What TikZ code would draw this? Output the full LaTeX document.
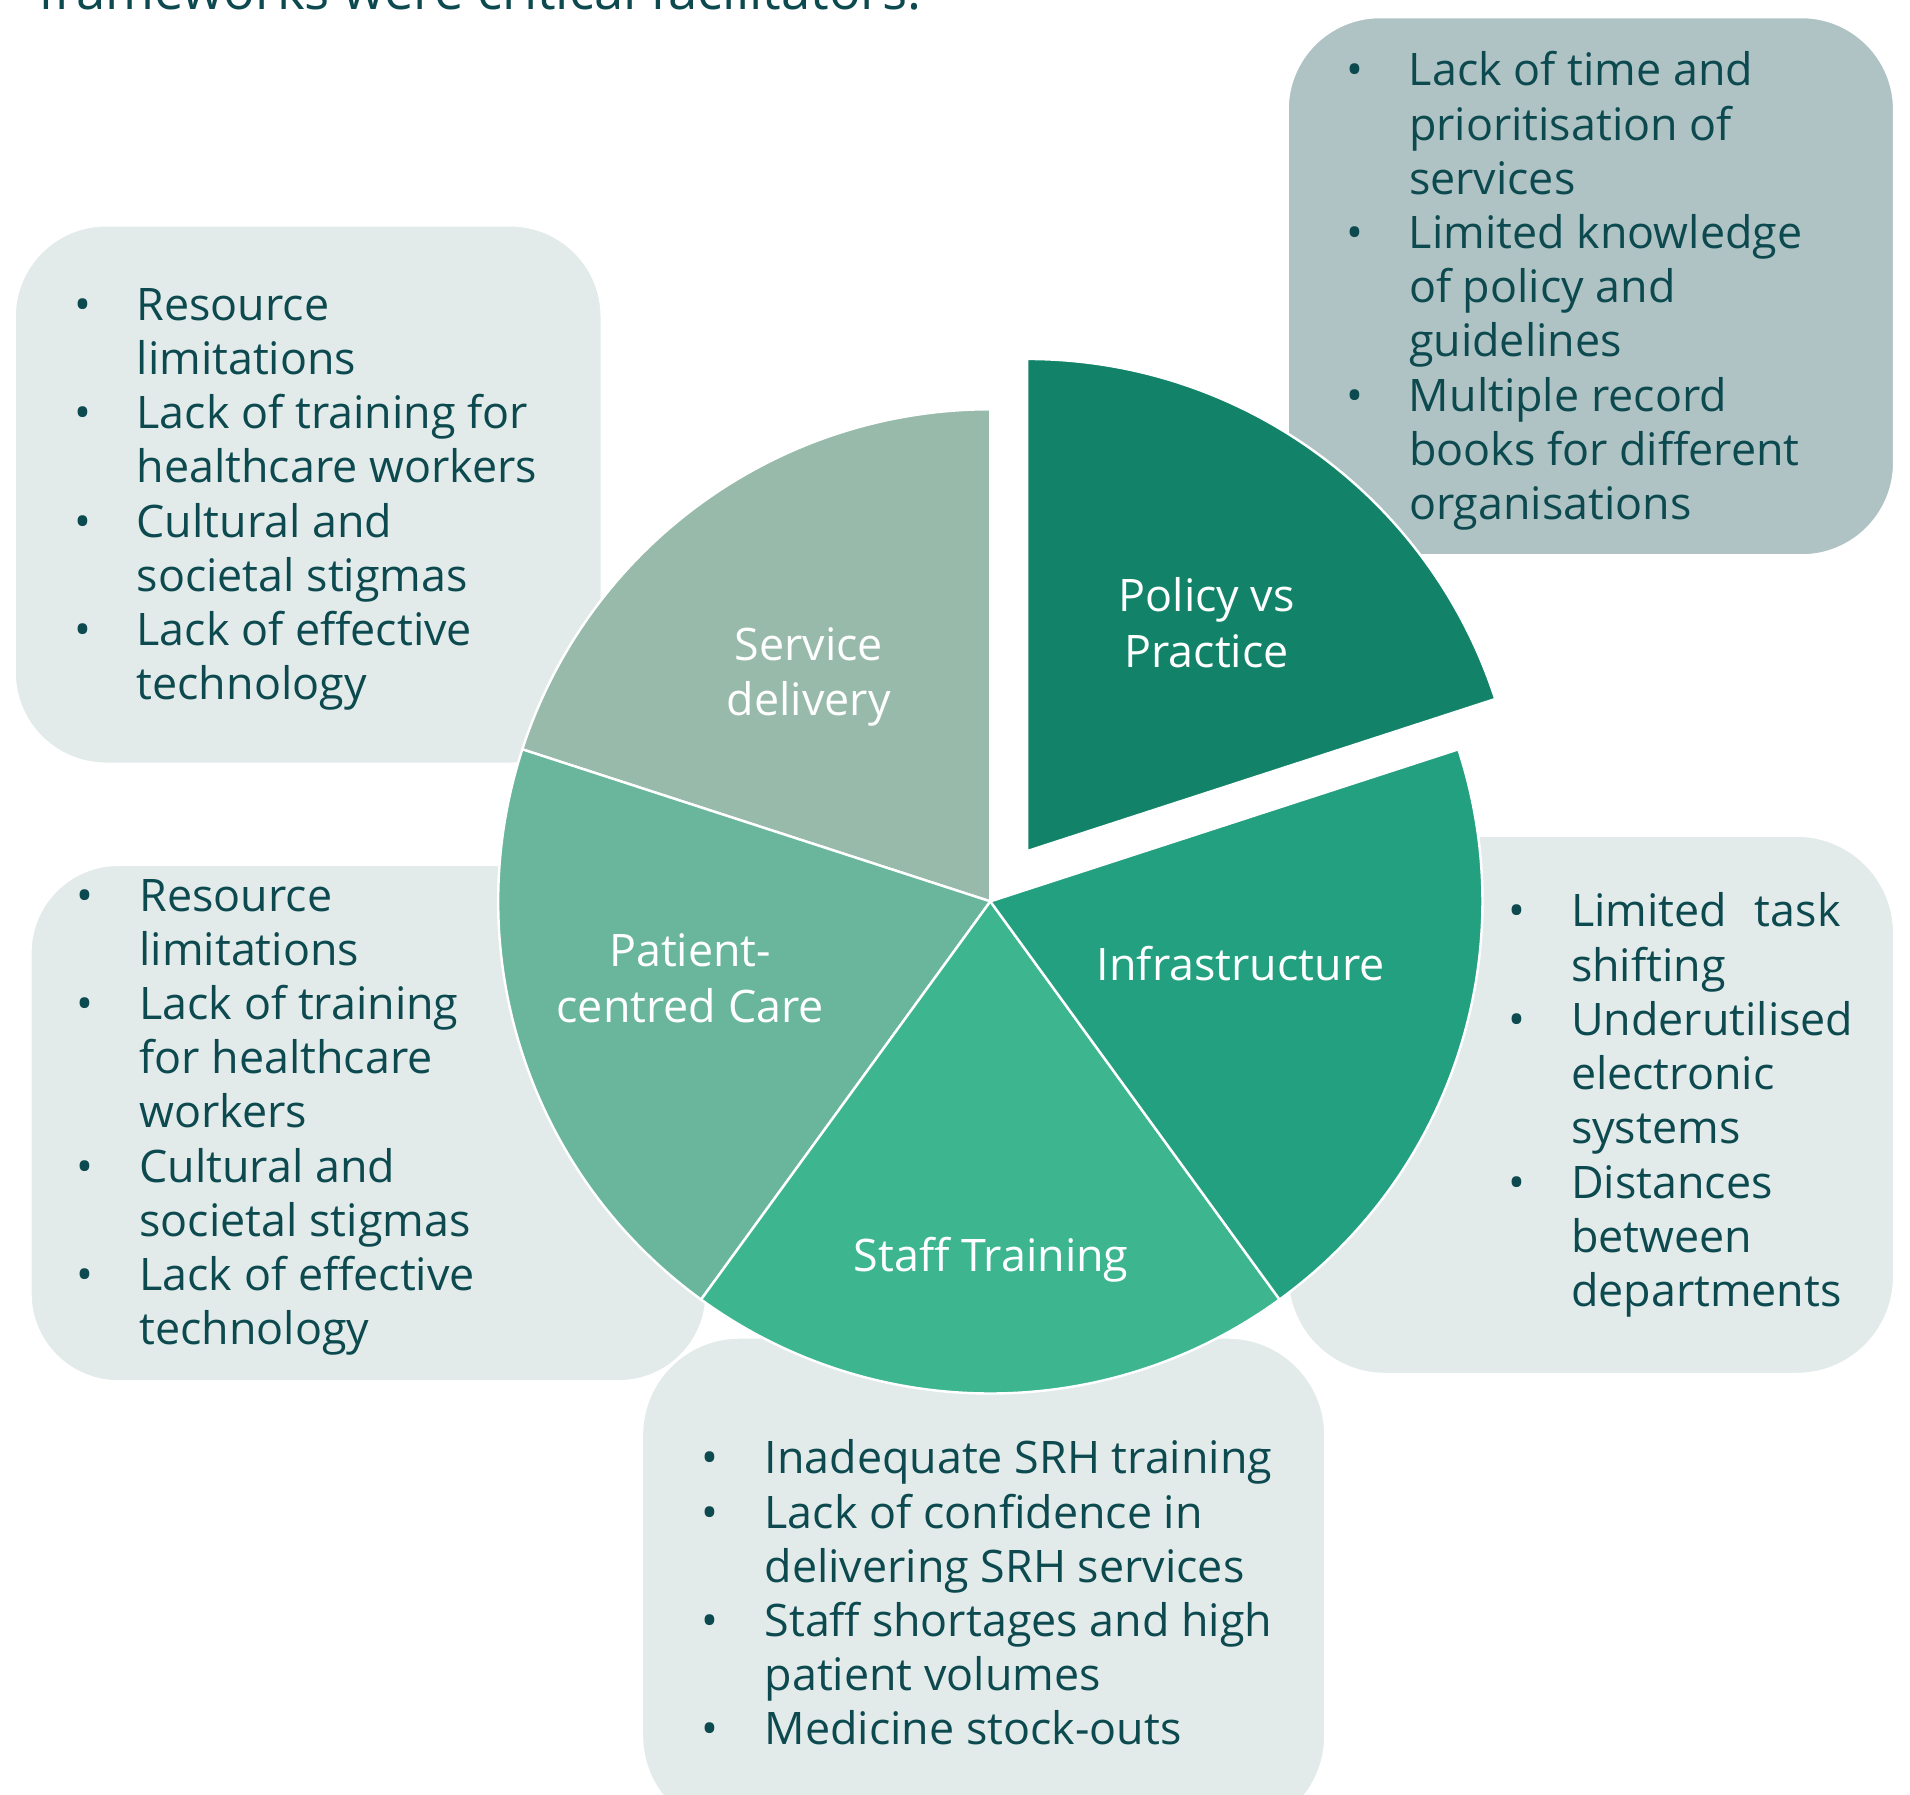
\documentclass[tikz,border=0pt]{standalone}
\usepackage{fontspec}
\setmainfont{Open Sans}

\definecolor{inktext}{HTML}{0D4A50}
\definecolor{panelpale}{HTML}{E2EBEA}
\definecolor{paneldark}{HTML}{AFC3C4}
\definecolor{segservice}{HTML}{97BAAB}
\definecolor{segpatient}{HTML}{69B69C}
\definecolor{segstaff}{HTML}{3DB690}
\definecolor{seginfra}{HTML}{23A07F}
\definecolor{segpolicy}{HTML}{128369}

% bullet in a fixed-width hanging column
\newcommand{\bul}{\makebox[44.5pt][l]{\makebox[0pt]{•}}}

\tikzset{
  panel/.style={fill=panelpale, draw=white, line width=2pt},
  segment/.style={draw=white, line width=2pt, line join=round},
  listtext/.style={anchor=base west, inner sep=0pt, text=inktext,
    font=\fontsize{36.8}{44.5}\selectfont},
  seglabel/.style={anchor=base, inner sep=0pt, text=white,
    font=\fontsize{36.8}{45.7}\selectfont}
}

\begin{document}
\begin{tikzpicture}[x=1pt, y=1pt]
\useasboundingbox (0,0) rectangle (1568,1473);
\clip (0,0) rectangle (1568,1473);
\fill[white] (0,0) rectangle (1568,1473);

% heading line, mostly above the top edge
\node[anchor=base west, inner sep=0pt, text=inktext,
      font=\fontsize{43.2}{52}\selectfont] (heading) at (31,1473-8)
      {frameworks were critical facilitators.};

% rounded panels behind the wheel
\draw[panel, rounded corners=75pt] (12,1473-185) rectangle (494,1473-627);
\draw[panel, fill=paneldark, rounded corners=76pt] (1057,1473-14) rectangle (1555,1473-456);
\draw[panel, rounded corners=72pt] (25,1473-710) rectangle (580,1473-1134);
\draw[panel, rounded corners=80pt] (1057,1473-686) rectangle (1555,1473-1128);
\draw[panel, rounded corners=80pt] (527,1473-1098) rectangle (1088,1473-1505);

% wheel of five segments, the policy segment pulled out
\coordinate (hub) at (813,733);
\coordinate (hubout) at (843.3,774.3);
\draw[segment, fill=segservice] (hub) -- ++(90:404) arc[start angle=90, end angle=162, radius=404] -- cycle;
\draw[segment, fill=segpatient] (hub) -- ++(162:404) arc[start angle=162, end angle=234, radius=404] -- cycle;
\draw[segment, fill=segstaff] (hub) -- ++(234:404) arc[start angle=234, end angle=306, radius=404] -- cycle;
\draw[segment, fill=seginfra] (hub) -- ++(306:404) arc[start angle=306, end angle=378, radius=404] -- cycle;
\draw[segment, fill=segpolicy] (hubout) -- ++(18:404) arc[start angle=18, end angle=90, radius=404] -- cycle;

% segment labels
\node[seglabel] (lpolicy) at (990.6,1473-502)
  {\begin{tabular}[t]{@{}c@{}}Policy vs\\Practice\end{tabular}};
\node[seglabel] (lservice) at (664,1473-542)
  {\begin{tabular}[t]{@{}c@{}}Service\\delivery\end{tabular}};
\node[seglabel] (lpatient) at (566.6,1473-793.6)
  {\begin{tabular}[t]{@{}c@{}}Patient-\\centred Care\end{tabular}};
\node[seglabel] (linfra) at (1018.6,1473-805)
  {Infrastructure};
\node[seglabel] (lstaff) at (813.7,1473-1043.5)
  {Staff Training};

% bullet lists
\node[listtext] (listpolicy) at (1112,1473-70.5)
  {\begin{tabular}[t]{@{}l@{}l@{}}
  \bul & Lack of time and\\
       & prioritisation of\\
       & services\\
  \bul & Limited knowledge\\
       & of policy and\\
       & guidelines\\
  \bul & Multiple record\\
       & books for different\\
       & organisations
  \end{tabular}};

\node[listtext] (listservice) at (67.5,1473-263)
  {\begin{tabular}[t]{@{}l@{}l@{}}
  \bul & Resource\\
       & limitations\\
  \bul & Lack of training for\\
       & healthcare workers\\
  \bul & Cultural and\\
       & societal stigmas\\
  \bul & Lack of effective\\
       & technology
  \end{tabular}};

\node[listtext] (listpatient) at (69.8,1473-748)
  {\begin{tabular}[t]{@{}l@{}l@{}}
  \bul & Resource\\
       & limitations\\
  \bul & Lack of training\\
       & for healthcare\\
       & workers\\
  \bul & Cultural and\\
       & societal stigmas\\
  \bul & Lack of effective\\
       & technology
  \end{tabular}};

\node[listtext] (listinfra) at (1245,1473-761)
  {\begin{tabular}[t]{@{}l@{}l@{}}
  \bul & Limited\hspace{0.62em}task\\
       & shifting\\
  \bul & Underutilised\\
       & electronic\\
       & systems\\
  \bul & Distances\\
       & between\\
       & departments
  \end{tabular}};

\node[listtext] (liststaff) at (583,1473-1210)
  {\begin{tabular}[t]{@{}l@{}l@{}}
  \bul & Inadequate SRH training\\
  \bul & Lack of confidence in\\
       & delivering SRH services\\
  \bul & Staff shortages and high\\
       & patient volumes\\
  \bul & Medicine stock-outs
  \end{tabular}};
\end{tikzpicture}
\end{document}
